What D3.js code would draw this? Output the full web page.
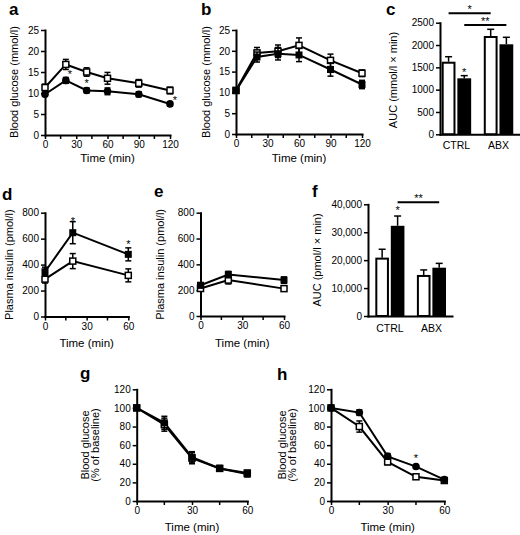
<!DOCTYPE html>
<html><head><meta charset="utf-8">
<script src="https://cdn.jsdelivr.net/npm/d3@7"></script>
<style>body{margin:0;background:#fff} svg{display:block}</style>
</head><body><svg id="chart" width="520" height="535"></svg>
<script>
// ---------- data ----------
const ogttTime = [0, 20, 40, 60, 90, 120];
const aOpenMean = [11.3, 16.8, 15.0, 13.5, 12.3, 10.6];
const aOpenErr = [0.8, 1.2, 1.0, 1.4, 0.9, 0.8];
const aFilledMean = [9.7, 13.0, 10.6, 10.4, 9.7, 7.4];
const aFilledErr = [0.5, 0.7, 0.6, 0.8, 0.6, 0.5];
const bOpenMean = [10.5, 19.5, 19.9, 21.3, 17.7, 14.6];
const bOpenErr = [0.6, 1.3, 1.5, 1.8, 1.5, 0.8];
const bFilledMean = [10.4, 18.5, 19.3, 19.0, 15.5, 11.9];
const bFilledErr = [0.6, 1.2, 1.5, 1.6, 1.6, 1.0];
const insulinTime = [0, 20, 60];
const dOpenMean = [288, 427, 317];
const dOpenErr = [30, 58, 50];
const dFilledMean = [345, 646, 479];
const dFilledErr = [35, 85, 50];
const eOpenMean = [213, 278, 212];
const eOpenErr = [20, 30, 20];
const eFilledMean = [238, 321, 278];
const eFilledErr = [20, 25, 25];
const ittTime = [0, 15, 30, 45, 60];
const gOpenMean = [100, 82, 46, 35, 30];
const gOpenErr = [0, 7, 6, 3, 3];
const gFilledMean = [100, 84, 47, 35, 29];
const gFilledErr = [0, 7, 6, 3, 3];
const hOpenMean = [100, 80, 42, 26, 22];
const hOpenErr = [0, 6, 3, 2, 2];
const hFilledMean = [100, 95, 48, 37, 23];
const hFilledErr = [0, 3, 3, 2, 2];
const groups = ["CTRL", "ABX"];
const cOpenMean = [1626, 2202];
const cOpenErr = [112, 150];
const cFilledMean = [1254, 2016];
const cFilledErr = [60, 157];
const fOpenMean = [20900, 14700];
const fOpenErr = [3000, 1800];
const fFilledMean = [32300, 17300];
const fFilledErr = [3500, 1550];
const glucoseTicks = [0, 5, 10, 15, 20, 25];
const insulinTicks = [0, 200, 400, 600, 800];
const pctTicks = [0, 20, 40, 60, 80, 100, 120];
const aucGlucoseTicks = [0, 500, 1000, 1500, 2000, 2500];
const aucInsulinTicks = [0, 10000, 20000, 30000, 40000];
const ogttMajor = [0, 30, 60, 90, 120];
const ogttMinor = [15, 45, 75, 105];
const shortMajor = [0, 30, 60];
const shortMinor = [15, 45];

// ---------- drawing ----------
const FONT = '"Liberation Sans", Arial, Helvetica, sans-serif';
const svg = d3.select("#chart");

function styleAxis(g) {
  g.attr("font-family", FONT).attr("font-size", 10);
  g.select(".domain").attr("stroke", "#000").attr("stroke-width", 2).attr("stroke-linecap", "square");
  g.selectAll(".tick line").attr("stroke", "#000").attr("stroke-width", 1.5);
  g.selectAll(".tick text").attr("fill", "#000");
}

function panelLetter(txt, x, y) {
  svg.append("text").attr("x", x).attr("y", y).attr("font-family", FONT)
    .attr("font-weight", "bold").attr("font-size", 17).text(txt);
}

function yLabel(lines, x, yc, lh) {
  const t = svg.append("text").attr("transform", `translate(${x},${yc}) rotate(-90)`)
    .attr("font-family", FONT).attr("font-size", 11).attr("text-anchor", "middle");
  lines.forEach((l, i) => t.append("tspan").attr("x", 0).attr("y", i * lh).text(l));
}

function star(txt, x, yc) {
  svg.append("text").attr("x", x).attr("y", yc + 6).attr("text-anchor", "middle")
    .attr("font-family", FONT).attr("font-size", 11).text(txt);
}

function linePanel(p) {
  const x = d3.scaleLinear().domain(p.xDomain).range([p.left, p.right]);
  const y = d3.scaleLinear().domain(p.yDomain).range([p.bottom, p.top]);
  const gx = svg.append("g").attr("transform", `translate(0,${p.bottom})`)
    .call(d3.axisBottom(x).tickValues(p.xTicks).tickSize(4).tickSizeOuter(0).tickPadding(2));
  gx.selectAll("line.minor").data(p.xMinor).enter().append("line").attr("class", "minor")
    .attr("x1", d => x(d)).attr("x2", d => x(d)).attr("y1", 0).attr("y2", 4);
  styleAxis(gx);
  gx.selectAll("line.minor").attr("stroke", "#000").attr("stroke-width", 1.5);
  const gy = svg.append("g").attr("transform", `translate(${p.left},0)`)
    .call(d3.axisLeft(y).tickValues(p.yTicks).tickSize(4).tickSizeOuter(0).tickPadding(2).tickFormat(d3.format("d")));
  styleAxis(gy);

  const line = d3.line().x(d => x(d.t)).y(d => y(d.m));
  const ser = p.series.map(s => ({ ...s, pts: p.time.map((t, i) => ({ t, m: s.mean[i], e: s.err[i] })) }));
  ser.forEach(s => svg.append("path").datum(s.pts).attr("d", line)
    .attr("fill", "none").attr("stroke", "#000").attr("stroke-width", 2));
  ser.forEach(s => {
    const g = svg.append("g");
    s.pts.forEach(d => {
      if (d.e > 0) {
        g.append("line").attr("x1", x(d.t)).attr("x2", x(d.t)).attr("y1", y(d.m - d.e)).attr("y2", y(d.m + d.e))
          .attr("stroke", "#000").attr("stroke-width", 1.5);
        [d.m - d.e, d.m + d.e].forEach(v => g.append("line").attr("x1", x(d.t) - 3).attr("x2", x(d.t) + 3)
          .attr("y1", y(v)).attr("y2", y(v)).attr("stroke", "#000").attr("stroke-width", 1.5));
      }
      if (s.filled && s.circle) {
        g.append("circle").attr("cx", x(d.t)).attr("cy", y(d.m)).attr("r", 3.8).attr("fill", "#000");
      } else if (s.filled) {
        g.append("rect").attr("x", x(d.t) - 3.5).attr("y", y(d.m) - 3.5).attr("width", 7).attr("height", 7).attr("fill", "#000");
      } else {
        g.append("rect").attr("x", x(d.t) - 3).attr("y", y(d.m) - 3).attr("width", 6).attr("height", 6)
          .attr("fill", "#fff").attr("stroke", "#000").attr("stroke-width", 1.5);
      }
    });
  });
  svg.append("text").attr("x", (p.left + p.right) / 2).attr("y", p.xLabelY).attr("text-anchor", "middle")
    .attr("font-family", FONT).attr("font-size", 11.5).text("Time (min)");
  return { x, y };
}

function barPanel(p) {
  const x = d3.scaleBand().domain(groups).range([p.left, p.right])
    .paddingInner(p.pi).paddingOuter(p.po).align(p.align);
  const xs = d3.scaleBand().domain(["open", "filled"]).range([0, x.bandwidth()]).paddingInner(0.12);
  const y = d3.scaleLinear().domain(p.yDomain).range([p.bottom, p.top]);
  const data = [];
  groups.forEach((g, i) => {
    data.push({ g, s: "open", m: p.open[i], e: p.openErr[i] });
    data.push({ g, s: "filled", m: p.filled[i], e: p.filledErr[i] });
  });
  data.forEach(d => {
    const cx = x(d.g) + xs(d.s) + xs.bandwidth() / 2;
    svg.append("line").attr("x1", cx).attr("x2", cx).attr("y1", y(d.m)).attr("y2", y(d.m + d.e))
      .attr("stroke", "#000").attr("stroke-width", 1.5);
    svg.append("line").attr("x1", cx - 3.5).attr("x2", cx + 3.5).attr("y1", y(d.m + d.e)).attr("y2", y(d.m + d.e))
      .attr("stroke", "#000").attr("stroke-width", 1.5);
    if (d.s === "open") {
      svg.append("rect").attr("x", x(d.g) + xs(d.s) + 1).attr("y", y(d.m) + 1)
        .attr("width", xs.bandwidth() - 2).attr("height", y(0) - y(d.m) - 1)
        .attr("fill", "#fff").attr("stroke", "#000").attr("stroke-width", 2);
    } else {
      svg.append("rect").attr("x", x(d.g) + xs(d.s)).attr("y", y(d.m))
        .attr("width", xs.bandwidth()).attr("height", y(0) - y(d.m)).attr("fill", "#000");
    }
  });
  const gx = svg.append("g").attr("transform", `translate(0,${p.bottom})`)
    .call(d3.axisBottom(x).tickSize(0).tickSizeOuter(0).tickPadding(p.catPad));
  styleAxis(gx);
  gx.selectAll(".tick text").attr("font-size", 10.5);
  const gy = svg.append("g").attr("transform", `translate(${p.left},0)`)
    .call(d3.axisLeft(y).tickValues(p.yTicks).tickSize(4).tickSizeOuter(0).tickPadding(2).tickFormat(p.fmt));
  styleAxis(gy);
  return { x, xs, y };
}

function sigLine(sc, g1, s1, g2, s2, yPix, label) {
  const c = (g, s) => sc.x(g) + sc.xs(s) + sc.xs.bandwidth() / 2;
  const x1 = c(g1, s1), x2 = c(g2, s2);
  svg.append("line").attr("x1", x1).attr("x2", x2).attr("y1", yPix).attr("y2", yPix)
    .attr("stroke", "#000").attr("stroke-width", 2);
  star(label, (x1 + x2) / 2, yPix - 6);
}

// Panel a
const A = linePanel({ left: 45, right: 170, top: 30, bottom: 135, xDomain: [0, 120], yDomain: [0, 25],
  xTicks: ogttMajor, xMinor: ogttMinor, yTicks: glucoseTicks, time: ogttTime, xLabelY: 162,
  series: [{ mean: aOpenMean, err: aOpenErr, filled: false }, { mean: aFilledMean, err: aFilledErr, filled: true, circle: true }] });
panelLetter("a", 9, 15);
yLabel(["Blood glucose (mmol/l)"], 18, 82, 0);
star("*", A.x(20) + 4, A.y(14.9));
star("*", A.x(40), A.y(12.8));
star("*", A.x(120) + 5, A.y(8.9));

// Panel b
linePanel({ left: 236, right: 362, top: 30, bottom: 134, xDomain: [0, 120], yDomain: [0, 25],
  xTicks: ogttMajor, xMinor: ogttMinor, yTicks: glucoseTicks, time: ogttTime, xLabelY: 162,
  series: [{ mean: bOpenMean, err: bOpenErr, filled: false }, { mean: bFilledMean, err: bFilledErr, filled: true }] });
panelLetter("b", 201, 15);
yLabel(["Blood glucose (mmol/l)"], 210, 82, 0);

// Panel c
const C = barPanel({ left: 440, right: 520, top: 22.7, bottom: 134.3, yDomain: [0, 2500], yTicks: aucGlucoseTicks,
  pi: 0.3, po: 0.1, align: 0.2, catPad: 7.5, fmt: d3.format("d"),
  open: cOpenMean, openErr: cOpenErr, filled: cFilledMean, filledErr: cFilledErr });
panelLetter("c", 386, 15);
yLabel(["AUC (mmol/l \u00d7 min)"], 397, 80, 0);
star("*", C.x("CTRL") + C.xs("filled") + C.xs.bandwidth() / 2, C.y(1440));
sigLine(C, "CTRL", "open", "ABX", "open", 13.3, "*");
sigLine(C, "CTRL", "filled", "ABX", "filled", 25, "**");

// Panel d
const D = linePanel({ left: 45, right: 128.3, top: 212.7, bottom: 316.5, xDomain: [0, 60], yDomain: [0, 800],
  xTicks: shortMajor, xMinor: shortMinor, yTicks: insulinTicks, time: insulinTime, xLabelY: 347,
  series: [{ mean: dOpenMean, err: dOpenErr, filled: false }, { mean: dFilledMean, err: dFilledErr, filled: true }] });
panelLetter("d", 2, 200);
yLabel(["Plasma insulin (pmol/l)"], 12.5, 264.6, 0);
star("*", D.x(20), D.y(755));
star("*", D.x(60), D.y(575));

// Panel e
linePanel({ left: 200.5, right: 284, top: 212.7, bottom: 316, xDomain: [0, 60], yDomain: [0, 800],
  xTicks: shortMajor, xMinor: shortMinor, yTicks: insulinTicks, time: insulinTime, xLabelY: 347,
  series: [{ mean: eOpenMean, err: eOpenErr, filled: false }, { mean: eFilledMean, err: eFilledErr, filled: true }] });
panelLetter("e", 154, 197);
yLabel(["Plasma insulin (pmol/l)"], 164, 264.3, 0);

// Panel f
const F = barPanel({ left: 368, right: 452, top: 204.3, bottom: 316, yDomain: [0, 40000], yTicks: aucInsulinTicks,
  pi: 0.3, po: 0.16, align: 0.55, catPad: 9, fmt: d3.format(","),
  open: fOpenMean, openErr: fOpenErr, filled: fFilledMean, filledErr: fFilledErr });
panelLetter("f", 312, 197);
yLabel(["AUC (pmol/l \u00d7 min)"], 321, 260, 0);
star("*", F.x("CTRL") + F.xs("filled") + F.xs.bandwidth() / 2, F.y(38700));
sigLine(F, "CTRL", "filled", "ABX", "filled", 202.3, "**");

// Panel g
linePanel({ left: 136.7, right: 247.3, top: 389.3, bottom: 501, xDomain: [0, 60], yDomain: [0, 120],
  xTicks: shortMajor, xMinor: shortMinor, yTicks: pctTicks, time: ittTime, xLabelY: 531,
  series: [{ mean: gOpenMean, err: gOpenErr, filled: false }, { mean: gFilledMean, err: gFilledErr, filled: true }] });
panelLetter("g", 80, 379);
yLabel(["Blood glucose", "(% of baseline)"], 88.5, 445, 10.5);

// Panel h
const H = linePanel({ left: 331, right: 444.3, top: 389.3, bottom: 501, xDomain: [0, 60], yDomain: [0, 120],
  xTicks: shortMajor, xMinor: shortMinor, yTicks: pctTicks, time: ittTime, xLabelY: 531,
  series: [{ mean: hOpenMean, err: hOpenErr, filled: false }, { mean: hFilledMean, err: hFilledErr, filled: true, circle: true }] });
panelLetter("h", 277, 380);
yLabel(["Blood glucose", "(% of baseline)"], 285.5, 445, 10.5);
star("*", H.x(45), H.y(48));
</script>
</body></html>
